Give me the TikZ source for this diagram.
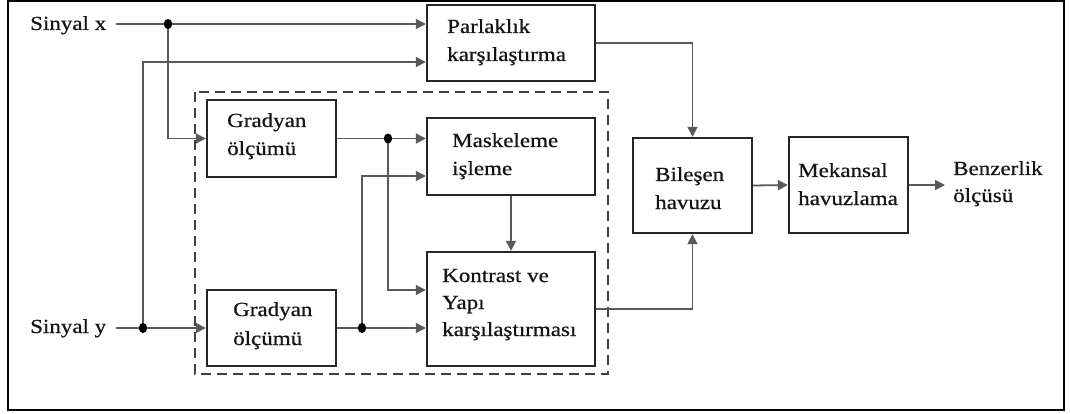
\documentclass[tikz,border=0pt]{standalone}
\usepackage{fontspec}
\setmainfont[FakeStretch=1.15,FakeBold=0.6]{Liberation Serif}
\usetikzlibrary{arrows.meta,calc}
\tikzset{
  box/.style={draw=black!85,line width=2.4pt,inner sep=0pt,fill=white},
  conn/.style={draw=black!65,line width=1.8pt},
  arr/.style={conn,-{Triangle[length=10pt,width=10pt]}},
  txt/.style={inner sep=0pt,font=\fontsize{20}{24}\selectfont,text=black!92},
  jdot/.style={fill=black}
}
\begin{document}
\begin{tikzpicture}[x=1pt,y=-1pt]
\useasboundingbox (0,0) rectangle (1070,414);
% outer frame
\draw[line width=2.2pt,black] (8,1) rectangle (1064,410);
% dashed group
\draw[draw=black!75,line width=2.2pt,dash pattern=on 10pt off 6pt] (195,92) rectangle (608,374);
% boxes
\node[box,minimum width=168,minimum height=76] (par) at (511,43) {};
\node[box,minimum width=129,minimum height=77] (gx) at (271.5,138.5) {};
\node[box,minimum width=129,minimum height=76] (gy) at (271.5,328) {};
\node[box,minimum width=168,minimum height=77] (mask) at (511,156.5) {};
\node[box,minimum width=168,minimum height=114] (kon) at (511,309) {};
\node[box,minimum width=119,minimum height=95] (bil) at (692.5,185.5) {};
\node[box,minimum width=119,minimum height=96] (mek) at (848.5,185) {};
% texts
\node[txt,anchor=base west] (t1) at (447,33) {Parlaklık};
\node[txt,anchor=base west] (t2) at (447,61) {karşılaştırma};
\node[txt,anchor=base west] (t3) at (227,127) {Gradyan};
\node[txt,anchor=base west] (t4) at (227,155) {ölçümü};
\node[txt,anchor=base west] (t5) at (233,316) {Gradyan};
\node[txt,anchor=base west] (t6) at (233,345) {ölçümü};
\node[txt,anchor=base west] (t7) at (452,147) {Maskeleme};
\node[txt,anchor=base west] (t8) at (452,175) {işleme};
\node[txt,anchor=base west] (t9) at (442,282) {Kontrast ve};
\node[txt,anchor=base west] (t10) at (442,309) {Yapı};
\node[txt,anchor=base west] (t11) at (442,336) {karşılaştırması};
\node[txt,anchor=base west] (t12) at (655,181) {Bileşen};
\node[txt,anchor=base west] (t13) at (655,209) {havuzu};
\node[txt,anchor=base west] (t14) at (798,177) {Mekansal};
\node[txt,anchor=base west] (t15) at (798,205) {havuzlama};
\node[txt,anchor=base west] (t16) at (953,175) {Benzerlik};
\node[txt,anchor=base west] (t17) at (953,202) {ölçüsü};
\node[txt,anchor=base west] (sxl) at (30,30) {Sinyal x};
\node[txt,anchor=base west] (syl) at (30,333) {Sinyal y};
% coordinates
\coordinate (xin) at (116,24);
\coordinate (yin) at (116,328);
\coordinate (jx) at (168,24);
\coordinate (jy) at (143,328);
\coordinate (j1) at (388,138.5);
\coordinate (j2) at (362,328);
\coordinate (out) at (945,185);
% connectors
\draw[arr] (xin) -- (xin -| par.west);
\draw[arr] (jx) |- (gx.west);
\draw[arr] (yin) -- (gy.west);
\draw[arr] (jy) |- ($(par.west)+(0,19)$);
\draw[arr] (gx.east) -- (mask.west |- gx.east);
\draw[arr] (j1) |- ($(kon.west)+(0,-19)$);
\draw[arr] (gy.east) -- (kon.west |- gy.east);
\draw[arr] (j2) |- ($(mask.west)+(0,19.5)$);
\draw[arr] (mask.south) -- (kon.north);
\draw[arr] (par.east) -| (bil.north);
\draw[arr] (kon.east) -| (bil.south);
\draw[arr] (bil.east) -- (mek.west);
\draw[arr] (mek.east) -- (out);
% junction dots
\foreach \p in {jx,jy,j1,j2} \fill[jdot] (\p) ellipse (4.2 and 5);
\end{tikzpicture}
\end{document}
